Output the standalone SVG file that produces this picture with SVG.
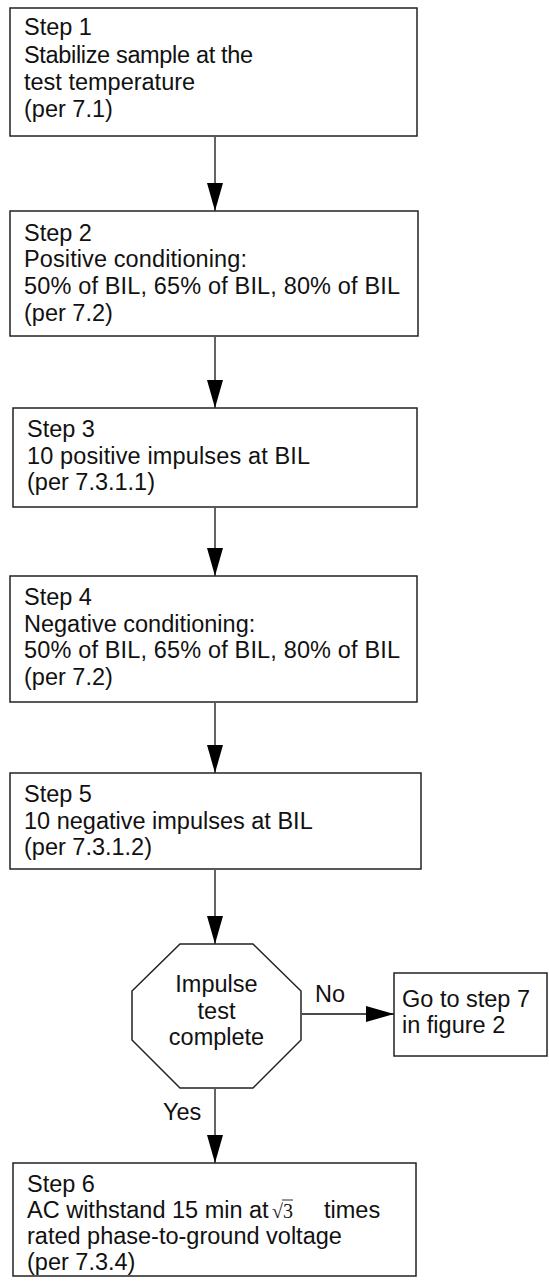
<svg xmlns="http://www.w3.org/2000/svg" width="549" height="1286" viewBox="0 0 549 1286">
<style>
  .box { fill: #fff; stroke: #222; stroke-width: 1.5; }
  .t { font-family: "Liberation Sans", Arial, sans-serif; font-size: 23.5px; fill: #111; }
  .c { text-anchor: middle; }
  .conn { stroke: #111; stroke-width: 1.3; fill: none; marker-end: url(#ah); }
  .math { font-family: "Liberation Serif", "Times New Roman", serif; font-size: 20px; fill: #111; }
</style>
<defs>
  <marker id="ah" viewBox="0 0 28 16" refX="28" refY="8" markerWidth="28" markerHeight="16" markerUnits="userSpaceOnUse" orient="auto">
    <path d="M0,0 L28,8 L0,16 z" fill="#000"/>
  </marker>
</defs>
<rect width="549" height="1286" fill="#fff"/>
<g id="connectors">
  <line class="conn" x1="215" y1="137" x2="215" y2="211"/>
  <line class="conn" x1="215" y1="337" x2="215" y2="408"/>
  <line class="conn" x1="215" y1="508" x2="215" y2="576"/>
  <line class="conn" x1="215" y1="703" x2="215" y2="773"/>
  <line class="conn" x1="215" y1="870" x2="215" y2="944"/>
  <line class="conn" x1="302" y1="1014" x2="394" y2="1014"/>
  <line class="conn" x1="215" y1="1089" x2="215" y2="1163"/>
  <text class="t" x="315" y="1002">No</text>
  <text class="t" x="163" y="1120">Yes</text>
</g>
<g id="step1">
  <rect class="box" x="10" y="8" width="407" height="128"/>
  <text class="t" x="24" y="35">Step 1</text>
  <text class="t" x="24" y="62.5" textLength="229">Stabilize sample at the</text>
  <text class="t" x="24" y="90">test temperature</text>
  <text class="t" x="24" y="117">(per 7.1)</text>
</g>
<g id="step2">
  <rect class="box" x="10" y="211" width="408" height="125"/>
  <text class="t" x="24" y="240.5">Step 2</text>
  <text class="t" x="24" y="267" textLength="223">Positive conditioning:</text>
  <text class="t" x="24" y="294" textLength="376">50% of BIL, 65% of BIL, 80% of BIL</text>
  <text class="t" x="24" y="321">(per 7.2)</text>
</g>
<g id="step3">
  <rect class="box" x="13" y="408" width="404" height="99"/>
  <text class="t" x="27" y="437">Step 3</text>
  <text class="t" x="27" y="463.5" textLength="283">10 positive impulses at BIL</text>
  <text class="t" x="27" y="490">(per 7.3.1.1)</text>
</g>
<g id="step4">
  <rect class="box" x="10" y="576" width="407" height="126"/>
  <text class="t" x="24" y="605">Step 4</text>
  <text class="t" x="24" y="631.5">Negative conditioning:</text>
  <text class="t" x="24" y="658" textLength="376">50% of BIL, 65% of BIL, 80% of BIL</text>
  <text class="t" x="24" y="685">(per 7.2)</text>
</g>
<g id="step5">
  <rect class="box" x="10" y="773" width="411" height="96"/>
  <text class="t" x="24" y="802">Step 5</text>
  <text class="t" x="24" y="829">10 negative impulses at BIL</text>
  <text class="t" x="24" y="855">(per 7.3.1.2)</text>
</g>
<g id="decision">
  <polygon class="box" points="180,944 253,944 301,991 301,1040 253,1088 180,1088 132,1040 132,991"/>
  <text class="t c" x="216.5" y="992">Impulse</text>
  <text class="t c" x="216.5" y="1018.5">test</text>
  <text class="t c" x="216.5" y="1045">complete</text>
</g>
<g id="goto7">
  <rect class="box" x="394" y="973" width="153" height="83"/>
  <text class="t" x="402" y="1006.5">Go to step 7</text>
  <text class="t" x="402" y="1033">in figure 2</text>
</g>
<g id="step6">
  <rect class="box" x="13" y="1163" width="403" height="113"/>
  <text class="t" x="27" y="1191.5">Step 6</text>
  <text class="t" x="27" y="1218">AC withstand 15 min at</text>
  <text class="math" x="272" y="1218">√3</text>
  <line x1="282" y1="1200" x2="293" y2="1200" stroke="#111" stroke-width="0.9"/>
  <text class="t" x="324" y="1218">times</text>
  <text class="t" x="27" y="1244">rated phase-to-ground voltage</text>
  <text class="t" x="27" y="1270">(per 7.3.4)</text>
</g>
</svg>
